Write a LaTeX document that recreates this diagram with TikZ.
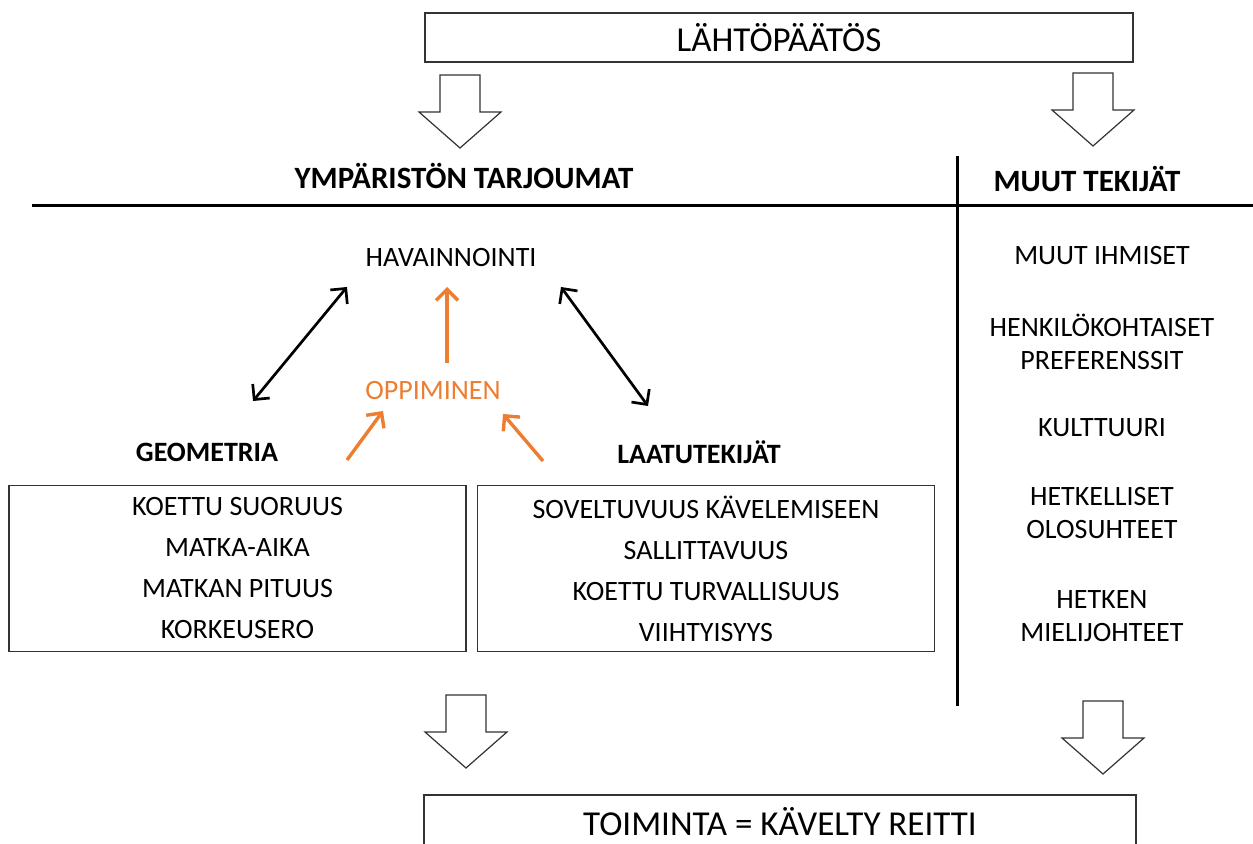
\documentclass[tikz,border=0pt]{standalone}
\usepackage{fontspec}
\setmainfont{Carlito}
\usetikzlibrary{arrows.meta}
\definecolor{learnorange}{RGB}{237,125,49}

\begin{document}
\begin{tikzpicture}[x=0.5pt, y=-0.5pt, every node/.style={inner sep=1pt},
  bigtxt/.style={font=\fontsize{17.5}{21}\selectfont},
  txt/.style={font=\fontsize{14}{16.5}\selectfont, align=center},
  headtxt/.style={font=\fontsize{15.5}{18}\selectfont\bfseries},
  subtxt/.style={font=\fontsize{14}{16}\selectfont\bfseries},
  listbox/.style={draw=black!80, line width=0.6pt, minimum width=228.5pt, minimum height=83pt,
    align=center, font=\fontsize{14}{20.5}\selectfont},
  blockarr/.style={draw=black!80, line width=0.6pt, fill=white, line join=miter},
  rule/.style={line width=1.5pt},
  dbl/.style={line width=1.35pt, {Straight Barb[length=5.5pt,width=11pt]}-{Straight Barb[length=5.5pt,width=11pt]}},
  learn/.style={learnorange, line width=1.7pt, -{Straight Barb[length=5.5pt,width=11pt]}}]
\useasboundingbox (0,0) rectangle (1253,844);
\clip (0,0) rectangle (1253,844);
% --- start and end ---
\node[draw=black!80, line width=0.6pt, minimum width=354pt, minimum height=24.5pt, bigtxt] (start) at (779,37.5) {LÄHTÖPÄÄTÖS};
\node[draw=black!80, line width=0.6pt, minimum width=356pt, minimum height=27pt, bigtxt] (finish) at (780,822) {TOIMINTA = KÄVELTY REITTI};
\foreach \cx/\ty in {460/75, 1093/73, 466/695, 1103/701}
  \draw[blockarr] (\cx-20,\ty) -- (\cx+20,\ty) -- (\cx+20,\ty+37) -- (\cx+41,\ty+37)
    -- (\cx,\ty+73) -- (\cx-41,\ty+37) -- (\cx-20,\ty+37) -- cycle;
% --- headings and rules ---
\node[headtxt] (env) at (464,176) {YMPÄRISTÖN TARJOUMAT};
\node[headtxt] (other) at (1087,179) {MUUT TEKIJÄT};
\draw[rule] (32,206) -- (1253,206);
\draw[rule] (957,156) -- (957,706);
% --- environment side ---
\node[txt] (hav) at (451,258) {HAVAINNOINTI};
\node[txt, text=learnorange] (opp) at (433,391) {OPPIMINEN};
\node[subtxt] (geom) at (207,452) {GEOMETRIA};
\node[subtxt] (laatu) at (699,452) {LAATUTEKIJÄT};
\node[listbox] (geombox) at (237.5,568.5) {KOETTU SUORUUS\\MATKA-AIKA\\MATKAN PITUUS\\KORKEUSERO};
\node[listbox] (laatubox) at (706,568.5) {SOVELTUVUUS KÄVELEMISEEN\\SALLITTAVUUS\\KOETTU TURVALLISUUS\\VIIHTYISYYS};
\coordinate (havL) at (347,287);
\coordinate (havR) at (561,287);
\coordinate (havB) at (447,287);
\coordinate (geomT) at (253,401);
\coordinate (laatuT) at (648,406);
\coordinate (oppB) at (447,363);
\coordinate (oppL) at (383,411);
\coordinate (oppR) at (503,414);
\coordinate (geomR) at (347,460);
\coordinate (laatuL) at (543,461);
\draw[dbl] (geomT) -- (havL);
\draw[dbl] (laatuT) -- (havR);
\draw[learn] (oppB) -- (havB);
\draw[learn] (geomR) -- (oppL);
\draw[learn] (laatuL) -- (oppR);
% --- other factors ---
\node[txt] (people) at (1102,256) {MUUT IHMISET};
\node[txt] (pref) at (1102,342) {HENKILÖKOHTAISET\\PREFERENSSIT};
\node[txt] (culture) at (1102,428) {KULTTUURI};
\node[txt] (cond) at (1102,513.5) {HETKELLISET\\OLOSUHTEET};
\node[txt] (whim) at (1102,616) {HETKEN\\MIELIJOHTEET};
\end{tikzpicture}
\end{document}
